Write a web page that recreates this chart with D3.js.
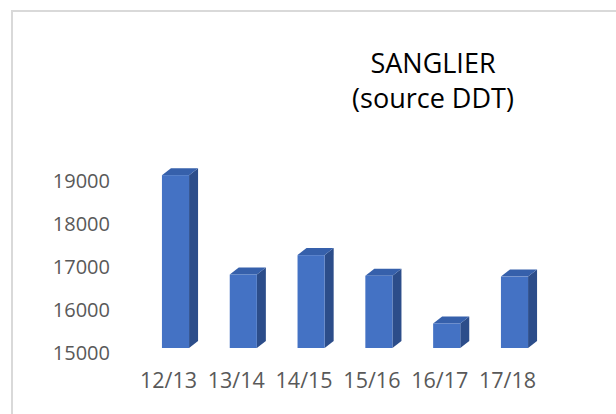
<!DOCTYPE html>
<html>
<head>
<meta charset="utf-8">
<script src="https://cdn.jsdelivr.net/npm/d3@7"></script>
<style>
  body { margin: 0; background: #fff; }
  svg { display: block; }
  text { font-family: "Open Sans", sans-serif; }
</style>
</head>
<body>
<svg id="chart"></svg>
<script>
// data
const seasons = ['12/13', '13/14', '14/15', '15/16', '16/17', '17/18'];
const counts = [19020, 16710, 17160, 16680, 15570, 16660];
const yTicks = [15000, 16000, 17000, 18000, 19000];
const titleLines = ['SANGLIER', '(source DDT)'];

const width = 616;
const height = 414;
const depth = { dx: 9, dy: -7 };  // 3d offset of bar side/top

const svg = d3.select('#chart')
  .attr('width', width)
  .attr('height', height);

// frame of the chart area
svg.append('path')
  .attr('d', `M12,${height} L12,11 L${width},11`)
  .attr('fill', 'none')
  .attr('stroke', '#d9d9d9')
  .attr('stroke-width', 2);

// scales
const x = d3.scaleBand()
  .domain(seasons)
  .range([141.6, 548.4])
  .paddingInner(0.6)
  .paddingOuter(0.3);

const y = d3.scaleLinear()
  .domain([15000, 19000])
  .range([348, 176]);

// bars
const bars = svg.append('g')
  .selectAll('g')
  .data(seasons.map((s, i) => ({ season: s, value: counts[i] })))
  .enter()
  .append('g');

// side face
bars.append('path')
  .attr('d', d => {
    const x1 = x(d.season) + x.bandwidth();
    const y0 = y(d.value), y1 = y(15000);
    return `M${x1},${y0} L${x1 + depth.dx},${y0 + depth.dy} L${x1 + depth.dx},${y1 + depth.dy} L${x1},${y1} Z`;
  })
  .attr('fill', '#2c4d8a');

// top face
bars.append('path')
  .attr('d', d => {
    const x0 = x(d.season), x1 = x0 + x.bandwidth();
    const y0 = y(d.value);
    return `M${x0},${y0} L${x0 + depth.dx},${y0 + depth.dy} L${x1 + depth.dx},${y0 + depth.dy} L${x1},${y0} Z`;
  })
  .attr('fill', '#3660ab');

// front face
bars.append('rect')
  .attr('x', d => x(d.season))
  .attr('y', d => y(d.value))
  .attr('width', x.bandwidth())
  .attr('height', d => y(15000) - y(d.value))
  .attr('fill', '#4472c4');

// y axis
const yAxis = svg.append('g')
  .attr('transform', 'translate(112, 5)')
  .call(d3.axisLeft(y).tickValues(yTicks).tickSize(0).tickPadding(2).tickFormat(d3.format('d')));
yAxis.select('.domain').remove();
yAxis.selectAll('text')
  .style('font-size', '20px')
  .style('font-family', '"Open Sans", sans-serif')
  .attr('fill', '#595959');

// x axis
const xAxis = svg.append('g')
  .attr('transform', 'translate(-7, 373)')
  .call(d3.axisBottom(x).tickSize(0).tickPadding(0));
xAxis.select('.domain').remove();
xAxis.selectAll('text')
  .style('font-size', '21.5px')
  .style('font-family', '"Open Sans", sans-serif')
  .attr('fill', '#595959');

// title
svg.append('g')
  .selectAll('text')
  .data(titleLines)
  .enter()
  .append('text')
  .attr('x', 433)
  .attr('y', (d, i) => 73 + i * 35)
  .attr('text-anchor', 'middle')
  .style('font-size', '27px')
  .attr('fill', '#000')
  .text(d => d);
</script>
</body>
</html>
